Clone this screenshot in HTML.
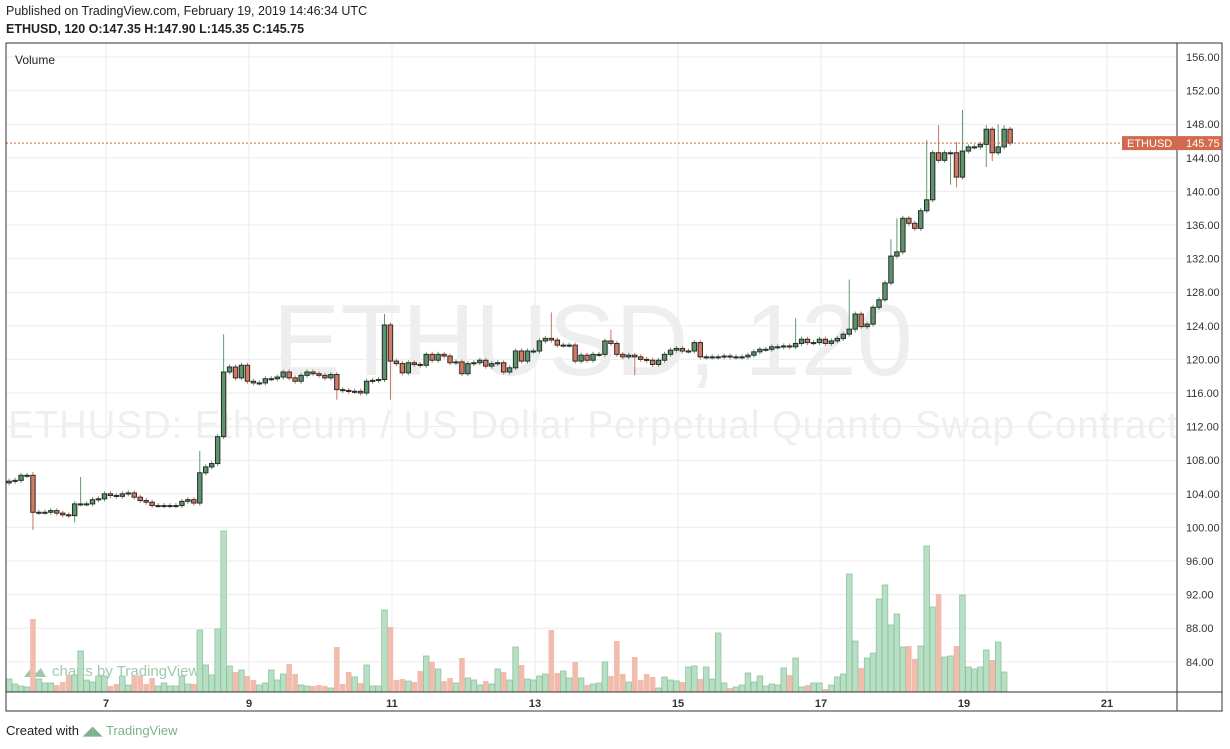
<!DOCTYPE html>
<html><head><meta charset="utf-8"><style>
body{margin:0;background:#fff;width:1230px;height:749px;overflow:hidden;font-family:"Liberation Sans",sans-serif;}
#hdr1{position:absolute;left:6px;top:4px;font-size:12.5px;color:#222;}
#hdr2{position:absolute;left:6px;top:22px;font-size:12.5px;color:#222;font-weight:bold;}
#foot{position:absolute;left:6px;top:723px;font-size:13px;color:#222;}
#foot span{color:#7cb28f;}
svg{position:absolute;left:0;top:0;}
</style></head><body>
<div id="hdr1">Published on TradingView.com, February 19, 2019 14:46:34 UTC</div>
<div id="hdr2">ETHUSD, 120 O:147.35 H:147.90 L:145.35 C:145.75</div>
<div id="foot">Created with <span>◢◣ TradingView</span></div>
<svg id="chart" width="1230" height="749"></svg>
<script>
const priceTicks=[84,88,92,96,100,104,108,112,116,120,124,128,132,136,140,144,148,152,156];
const dayTicks=[7,9,11,13,15,17,19,21];
const firstOpen=105.3;
const closes=[105.5,105.6,106.2,106.2,101.8,101.8,101.8,102.0,101.7,101.5,
101.4,102.8,102.8,102.8,103.3,103.4,104.0,103.8,103.7,104.0,
104.1,103.6,103.2,103.0,102.6,102.6,102.6,102.6,102.6,103.1,
103.3,102.9,106.5,107.2,107.6,110.8,118.5,119.1,117.8,119.3,
117.4,117.2,117.2,117.7,117.7,117.9,118.5,117.8,117.4,118.1,
118.5,118.3,118.1,117.8,118.2,116.4,116.3,116.2,116.2,116.0,
117.4,117.5,117.6,
124.1,119.8,119.5,118.4,119.6,119.4,119.3,120.6,119.9,120.6,
120.4,119.6,119.7,118.3,119.5,119.6,119.9,119.2,119.5,119.6,
118.5,119.0,121.0,119.8,121.0,121.0,122.2,122.5,122.3,121.7,
121.7,121.7,119.8,120.5,119.9,120.6,120.6,122.2,121.9,120.6,
120.3,120.5,120.3,120.0,119.9,119.4,119.9,120.6,121.1,121.3,
121.0,121.0,122.0,120.3,120.3,120.3,120.3,120.4,120.3,120.3,120.3,120.5,120.9,121.2,
121.2,121.5,121.5,121.6,121.5,121.9,122.4,122.0,122.0,122.4,121.9,
122.2,122.5,123.0,123.6,
125.4,123.9,124.2,126.2,127.1,129.1,132.3,132.8,136.8,136.2,135.6,137.7,139.0,144.6,143.7,144.6,144.6,141.7,144.8,145.3,145.3,145.6,147.4,144.6,145.3,147.4,145.75];
const highsSpecial={4:106.6,12:106.0,32:109.1,36:123.0,63:125.4,91:125.6,101:123.5,132:124.9,141:129.5,148:134.3,149:136.8,154:146.1,156:147.9,159:145.9,160:149.7,164:147.9,166:148.0,167:147.9};
const lowsSpecial={4:99.7,11:100.6,55:115.2,64:115.2,105:118.1,142:123.2,158:140.8,159:140.5,164:142.9,165:143.6};
const volumes=[13,8,6,5,73,13,9,9,7,10,17,17,41,12,10,16,16,6,8,16,7,16,16,8,14,6,9,6,6,16,8,8,62,27,17,63,161,26,20,22,16,12,7,9,22,12,18,28,18,7,6,6,7,6,4,45,8,20,15,9,27,6,6,82,65,12,13,11,10,21,36,30,23,11,14,9,34,14,12,7,11,8,23,20,12,45,
27,13,12,16,18,62,19,21,14,30,14,7,8,9,30,16,51,18,10,35,12,18,15,4,15,12,11,10,25,26,13,25,13,59,9,4,5,7,19,10,16,6,8,7,24,17,34,5,7,9,9,3,7,15,18,118,51,24,34,39,93,107,67,78,45,46,33,46,146,85,98,35,36,46,97,25,23,25,42,32,50,20];
const lastPrice=145.75;

const NS='http://www.w3.org/2000/svg';
const svg=document.getElementById('chart');
const L=6,R=1177,T=43,B=692,AX=711;
const yP=p=>57+(156-p)*8.4;
const startDay=5.645;
const xDay=d=>106+(d-7)*71.5;
const xI=i=>xDay(startDay+i/12);
const volBase=692;
const yV=v=>volBase-v;
function mk(tag,attrs,name,inter){const e=document.createElementNS(NS,tag);for(const k in attrs)e.setAttribute(k,attrs[k]);


svg.appendChild(e);return e;}
priceTicks.forEach(p=>{mk('line',{x1:L,x2:R,y1:yP(p),y2:yP(p),stroke:'#ebebeb','stroke-width':1},'h-gridline',false);});
dayTicks.forEach(d=>{mk('line',{x1:xDay(d),x2:xDay(d),y1:T,y2:B,stroke:'#ebebeb','stroke-width':1},'v-gridline',false);});
let w1=mk('text',{x:593,y:375,'font-size':101,fill:'#eeeeee','text-anchor':'middle','font-family':'Liberation Sans, sans-serif'},'symbol-watermark',false);w1.textContent='ETHUSD, 120';
let w2=mk('text',{x:8,y:438,'font-size':38.5,fill:'#efefef','font-family':'Liberation Sans, sans-serif',textLength:1170},'description-watermark',false);w2.textContent='ETHUSD: Ethereum / US Dollar Perpetual Quanto Swap Contract';
let w3=mk('text',{x:52,y:676,'font-size':15,fill:'#9fc9ab','font-family':'Liberation Sans, sans-serif'},'charts-by-tradingview-watermark',false);w3.textContent='charts by TradingView';
mk('path',{d:'M24 677 L31 668 L36 673 L41 668 L46 677 Z',fill:'#9fc9ab'},'tradingview-logo',false);
volumes.forEach((v,i)=>{const o=i===0?firstOpen:closes[i-1];const up=closes[i]>=o;
mk('rect',{x:xI(i)-2.8,y:yV(v),width:5.6,height:v,fill:up?'#b6dfc3':'#f1bcab',stroke:up?'#92c3a1':'none','stroke-width':0.8},'volume-bar',false);});
closes.forEach((c,i)=>{const o=i===0?firstOpen:closes[i-1];const up=c>=o;
const hi=highsSpecial[i]!==undefined?highsSpecial[i]:Math.max(o,c)+0.3;
const lo=lowsSpecial[i]!==undefined?lowsSpecial[i]:Math.min(o,c)-0.3;
const x=xI(i);
mk('line',{x1:x,x2:x,y1:yP(hi),y2:yP(lo),stroke:up?'#5d9a6c':'#c8755d','stroke-width':1},'candle-wick',false);
const yt=yP(Math.max(o,c)),yb=yP(Math.min(o,c));
mk('rect',{x:x-2.2,y:yt,width:4.4,height:Math.max(1,yb-yt),fill:up?'#5b956a':'#d57a60',stroke:'#2a2a2a','stroke-width':1},'candle-body',true);});
mk('line',{x1:L,x2:R,y1:yP(lastPrice),y2:yP(lastPrice),stroke:'#d9623d','stroke-width':1,'stroke-dasharray':'2,2'},'last-price-line',false);
mk('rect',{x:L,y:T,width:1222-L,height:AX-T,fill:'none',stroke:'#333','stroke-width':1},'chart-frame',false);
mk('line',{x1:L,x2:1222,y1:B,y2:B,stroke:'#333','stroke-width':1},'x-axis-line',false);
mk('line',{x1:R,x2:R,y1:T,y2:AX,stroke:'#333','stroke-width':1},'y-axis-line',false);
priceTicks.forEach(p=>{const t=mk('text',{x:1186,y:yP(p)+4,'font-size':11,fill:'#333','font-family':'Liberation Sans, sans-serif'},'y-tick-label',false);t.textContent=p.toFixed(2);});
dayTicks.forEach(d=>{const t=mk('text',{x:xDay(d),y:707,'font-size':11,'font-weight':'bold',fill:'#333','text-anchor':'middle','font-family':'Liberation Sans, sans-serif'},'x-tick-label',false);t.textContent=d;});
mk('rect',{x:1122,y:yP(lastPrice)-7,width:100,height:14,fill:'#d26b4e'},'last-price-badge',false);
let t1=mk('text',{x:1127,y:yP(lastPrice)+4,'font-size':11,fill:'#fff','font-family':'Liberation Sans, sans-serif'},'symbol-badge-label',false);t1.textContent='ETHUSD';
let t2=mk('text',{x:1186,y:yP(lastPrice)+4,'font-size':11,fill:'#fff','font-family':'Liberation Sans, sans-serif'},'last-price-label',false);t2.textContent=lastPrice.toFixed(2);
let tv=mk('text',{x:15,y:64,'font-size':12,fill:'#222','font-family':'Liberation Sans, sans-serif'},'volume-label',false);tv.textContent='Volume';
</script>
</body></html>
